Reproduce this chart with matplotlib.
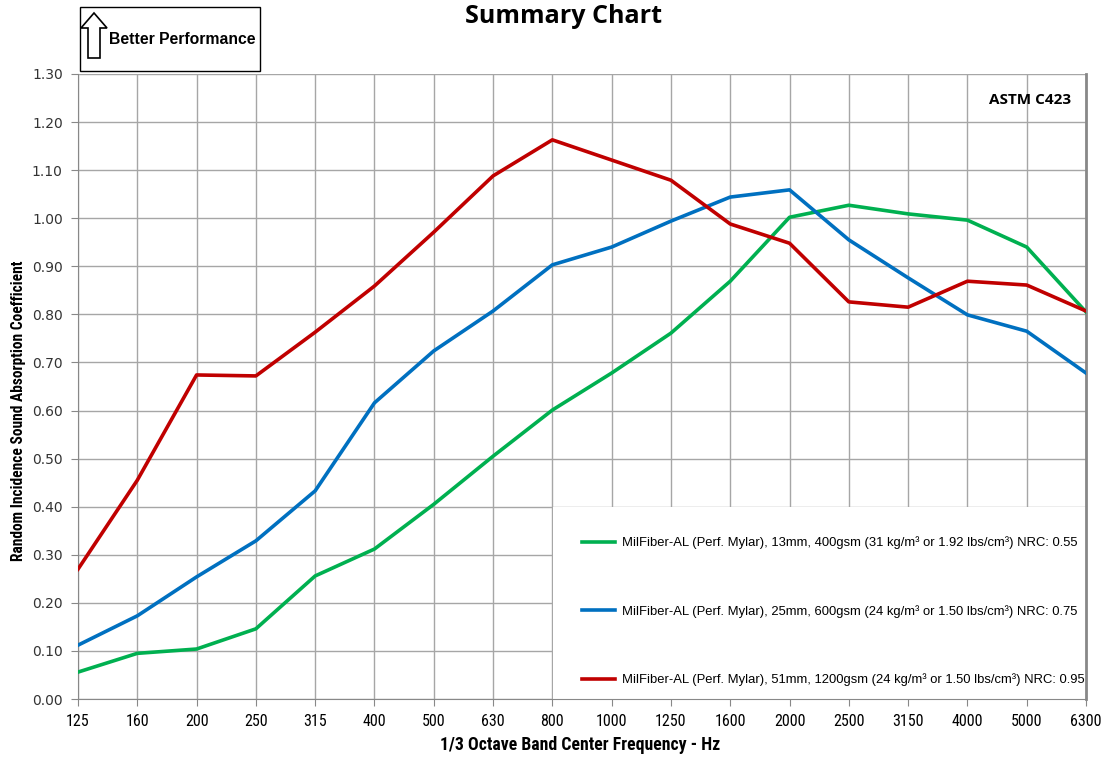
import matplotlib.pyplot as plt
from matplotlib.patches import Rectangle, Polygon

freqs = ['125', '160', '200', '250', '315', '400', '500', '630', '800', '1000',
         '1250', '1600', '2000', '2500', '3150', '4000', '5000', '6300']

mm13 = [0.056, 0.095, 0.104, 0.146, 0.256, 0.312, 0.405, 0.505, 0.601, 0.678,
        0.761, 0.869, 1.002, 1.027, 1.009, 0.996, 0.940, 0.805]
mm25 = [0.112, 0.173, 0.254, 0.329, 0.433, 0.616, 0.724, 0.807, 0.903, 0.940,
        0.994, 1.044, 1.059, 0.955, 0.876, 0.799, 0.765, 0.678]
mm51 = [0.270, 0.455, 0.674, 0.672, 0.763, 0.859, 0.971, 1.088, 1.163, 1.121,
        1.079, 0.988, 0.948, 0.826, 0.815, 0.869, 0.861, 0.807]

labels = ['MilFiber-AL (Perf. Mylar), 13mm, 400gsm (31 kg/m³ or 1.92 lbs/cm³) NRC: 0.55',
          'MilFiber-AL (Perf. Mylar), 25mm, 600gsm (24 kg/m³ or 1.50 lbs/cm³) NRC: 0.75',
          'MilFiber-AL (Perf. Mylar), 51mm, 1200gsm (24 kg/m³ or 1.50 lbs/cm³) NRC: 0.95']
colours = ['#00b050', '#0070c0', '#c00000']

narrow = ['Roboto Condensed', 'DejaVu Sans']

fig = plt.figure(figsize=(11.03, 7.58), dpi=100)
ax = fig.add_axes([0.0707, 0.0778, 0.9139, 0.8246])

x = list(range(len(freqs)))
for vals, lbl, clr in zip([mm13, mm25, mm51], labels, colours):
    ax.plot(x, vals, color=clr, lw=2.6, label=lbl, zorder=3)

ax.set_xlim(0, len(freqs) - 1)
ax.set_ylim(0, 1.3)
ax.set_xticks(x)
ax.set_xticklabels(freqs, family=narrow, fontsize=11.5)
ax.set_yticks([i / 10 for i in range(14)])
ax.set_yticklabels([f'{i / 10:.2f}' for i in range(14)], family='DejaVu Sans', fontsize=10, color='#333333')
ax.grid(True, color='#a6a6a6', lw=1)
ax.set_axisbelow(True)
for s in ['left', 'bottom', 'right']:
    ax.spines[s].set_color('#888888')
ax.spines['right'].set_linewidth(2)
ax.spines['top'].set_visible(False)
ax.tick_params(direction='out', length=5, color='#888888', pad=6)

ax.set_xlabel('1/3 Octave Band Center Frequency - Hz', family=narrow,
              fontsize=12.8, fontweight='bold')
ax.xaxis.set_label_coords(0.498, -0.0736)
ax.xaxis.label.set_va('center')
ax.set_ylabel('Random Incidence Sound Absorption Coefficient', family=narrow,
              fontsize=11.2, fontweight='bold')
ax.yaxis.set_label_coords(-0.0595, 0.462)
ax.yaxis.label.set_va('center')

fig.text(0.511, 0.978, 'Summary Chart', ha='center', va='center', family='Open Sans',
         fontsize=18, fontweight='bold')
ax.text(0.985, 0.958, 'ASTM C423', transform=ax.transAxes, ha='right', va='center',
        family='Open Sans', fontsize=11, fontweight='bold')

# white block behind the legend hides the grid there
ax.add_patch(Rectangle((0.471, 0.0), 0.529, 0.307, transform=ax.transAxes,
                       facecolor='white', edgecolor='none', zorder=1.5))
leg = ax.legend(loc='lower right', bbox_to_anchor=(1.011, 0.0),
                prop={'family': 'Liberation Sans', 'size': 9.4},
                frameon=False, handlelength=2.5, handletextpad=0.55, labelspacing=4.28,
                borderpad=0.96, borderaxespad=0.0)

# "Better Performance" box
W, H = 1103, 758
fig.patches.append(Rectangle((80 / W, 1 - 71 / H), 180 / W, 64 / H, transform=fig.transFigure,
                             fill=False, edgecolor='black', lw=1))
arrow_px = [(88, 58), (88, 28), (81, 28), (94, 13), (107, 28), (100, 28), (100, 58)]
fig.patches.append(Polygon([(px / W, 1 - py / H) for px, py in arrow_px], closed=True,
                           transform=fig.transFigure, fill=False, edgecolor='black', lw=1.2))
fig.text(109 / W, 1 - 40 / H, 'Better Performance', ha='left', va='center',
         family='Liberation Sans', fontsize=11.3, fontweight='bold')

fig.savefig('out.png', dpi=100)
